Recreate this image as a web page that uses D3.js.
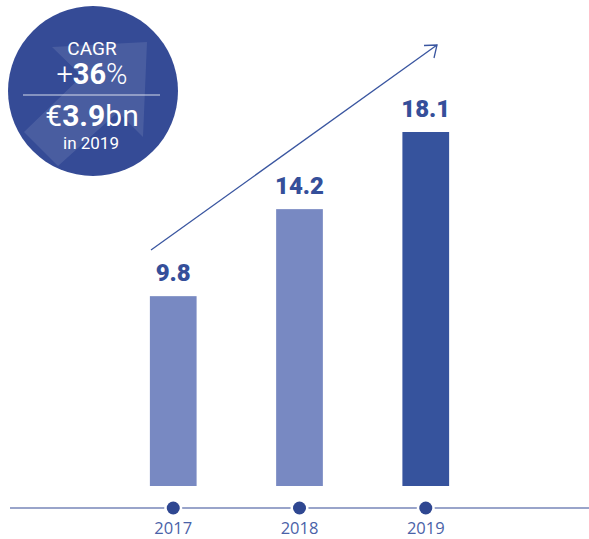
<!DOCTYPE html>
<html>
<head>
<meta charset="utf-8">
<script src="https://cdn.jsdelivr.net/npm/d3@7"></script>
<style>
  body { margin: 0; background: #fff; }
  svg { display: block; }
</style>
</head>
<body>
<div id="chart"></div>
<script>
// data
const years = ['2017', '2018', '2019'];
const values = [9.8, 14.2, 18.1];
const highlight = [false, false, true];

const width = 589, height = 539;
const baseY = 486;

const svg = d3.select('#chart').append('svg')
  .attr('width', width)
  .attr('height', height);

const xScale = d3.scaleBand()
  .domain(years)
  .range([112, 487])
  .paddingInner(0.63)
  .paddingOuter(0.3);

const yScale = d3.scaleLinear()
  .domain([0, 18.1])
  .range([490, 132]);

// bars
svg.append('g').selectAll('rect')
  .data(years)
  .join('rect')
  .attr('x', d => xScale(d))
  .attr('y', (d, i) => yScale(values[i]))
  .attr('width', xScale.bandwidth())
  .attr('height', (d, i) => baseY - yScale(values[i]))
  .attr('fill', (d, i) => highlight[i] ? '#36539d' : '#7889c2');

// value labels
svg.append('g').selectAll('text')
  .data(years)
  .join('text')
  .attr('x', d => xScale(d) + xScale.bandwidth() / 2)
  .attr('y', (d, i) => yScale(values[i]) - 15)
  .attr('text-anchor', 'middle')
  .attr('font-family', 'Roboto, sans-serif')
  .attr('font-weight', 900)
  .attr('font-size', 24)
  .attr('fill', '#354f9a')
  .text((d, i) => values[i].toFixed(1));

// timeline
const lineY = 508;
svg.append('line')
  .attr('x1', 10).attr('x2', width)
  .attr('y1', lineY).attr('y2', lineY)
  .attr('stroke', '#354b96')
  .attr('stroke-width', 1.2);

const axis = svg.append('g');
axis.selectAll('circle')
  .data(years)
  .join('circle')
  .attr('cx', d => xScale(d) + xScale.bandwidth() / 2)
  .attr('cy', lineY)
  .attr('r', 6.5)
  .attr('fill', '#2f4791')
  .attr('stroke', '#fff')
  .attr('stroke-width', 5)
  .attr('paint-order', 'stroke');

axis.selectAll('text')
  .data(years)
  .join('text')
  .attr('x', d => xScale(d) + xScale.bandwidth() / 2)
  .attr('y', 534)
  .attr('text-anchor', 'middle')
  .attr('font-family', '"Open Sans", sans-serif')
  .attr('font-size', 16.5)
  .attr('fill', '#4a62a8')
  .text(d => d);

// trend arrow
svg.append('line')
  .attr('x1', 151).attr('y1', 250)
  .attr('x2', 437).attr('y2', 45)
  .attr('stroke', '#3a56a0')
  .attr('stroke-width', 1.3);
svg.append('path')
  .attr('d', 'M424,45.5 L437,45 L434,58')
  .attr('fill', 'none')
  .attr('stroke', '#3a56a0')
  .attr('stroke-width', 1.3);

// badge
const badge = svg.append('g');
badge.append('circle')
  .attr('cx', 93).attr('cy', 91).attr('r', 85)
  .attr('fill', '#354b96');
badge.append('path')
  .attr('d', 'M52,47 L147,42 L143,137 L118,112 L58,166 L24,132 L82,76 Z')
  .attr('fill', '#fff')
  .attr('fill-opacity', 0.1);

const badgeText = badge.append('g')
  .attr('font-family', 'Roboto, sans-serif')
  .attr('fill', '#fff')
  .attr('text-anchor', 'middle');

badgeText.append('text')
  .attr('x', 92).attr('y', 55)
  .attr('font-size', 19)
  .text('CAGR');

const t2 = badgeText.append('text')
  .attr('x', 92).attr('y', 84)
  .attr('font-size', 29);
t2.append('tspan').attr('font-weight', 300).text('+');
t2.append('tspan').attr('font-weight', 'bold').text('36');
t2.append('tspan').attr('font-weight', 300).text('%');

badge.append('line')
  .attr('x1', 23).attr('x2', 160)
  .attr('y1', 95).attr('y2', 95)
  .attr('stroke', '#fff')
  .attr('stroke-opacity', 0.8)
  .attr('stroke-width', 1);

const t3 = badgeText.append('text')
  .attr('x', 92).attr('y', 126)
  .attr('font-size', 30);
t3.append('tspan').text('€');
t3.append('tspan').attr('font-weight', 'bold').text('3.9');
t3.append('tspan').text('bn');

badgeText.append('text')
  .attr('x', 91).attr('y', 149)
  .attr('font-size', 17)
  .text('in 2019');
</script>
</body>
</html>
